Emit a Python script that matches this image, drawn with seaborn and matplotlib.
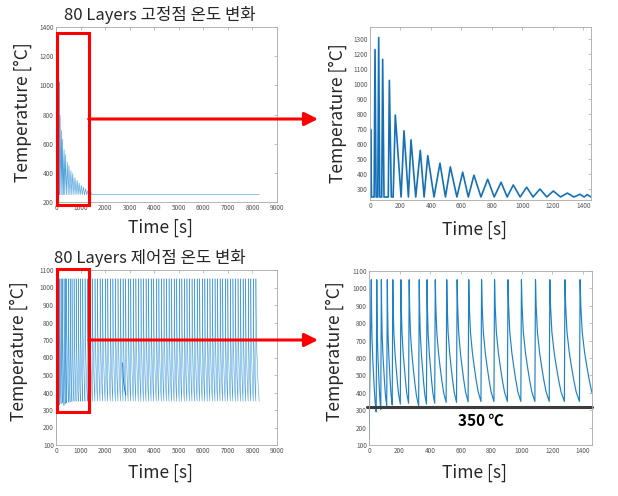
import matplotlib
matplotlib.use("Agg")
import matplotlib.pyplot as plt
import seaborn as sns
import pandas as pd
from matplotlib.patches import Rectangle, FancyArrowPatch

# ---------------- data ----------------
# fixed point (고정점) : peaks / troughs of the temperature trace
fixed_peak_t = [4, 33, 57, 83, 127, 166, 223, 269, 330, 379, 459, 527, 608, 682,
                772, 860, 940, 1028, 1115, 1203, 1295, 1378, 1425]
fixed_peak_T = [700, 1230, 1310, 1165, 1025, 795, 690, 630, 560, 525, 475, 450, 415, 395,
                368, 348, 330, 315, 303, 290, 276, 268, 266]
fixed_trough_t = [0, 10, 27, 40, 51, 64, 77, 92, 120, 140, 152, 204, 252, 300, 355, 420,
                  495, 570, 645, 728, 815, 900, 985, 1070, 1160, 1250, 1338, 1405, 1450, 8275]
fixed_trough_T = [250, 250, 250, 250, 250, 250, 250, 250, 250, 250, 250, 250, 250, 250, 250, 250,
                  250, 250, 250, 250, 250, 250, 250, 250, 250, 250, 250, 250, 250, 250]

# control point (제어점) : layer peak times, peak temperatures, preceding trough temperatures
ctrl_peak_t = [15, 51, 81, 120, 156, 209, 263, 329, 380, 434, 509, 577, 653, 737, 822, 910,
               998, 1090, 1184, 1283, 1382,
               1485, 1589, 1693, 1797, 1901, 2005, 2109, 2213, 2317, 2421, 2525, 2629, 2733,
               2837, 2941, 3045, 3149, 3253, 3357, 3461, 3565, 3669, 3773, 3877, 3981, 4085,
               4189, 4293, 4397, 4501, 4605, 4709, 4813, 4917, 5021, 5125, 5229, 5333, 5437,
               5541, 5645, 5749, 5853, 5957, 6061, 6165, 6269, 6373, 6477, 6581, 6685, 6789,
               6893, 6997, 7101, 7205, 7309, 7413, 7517, 7621, 7725, 7829, 7933, 8037, 8141]
ctrl_peak_T = [1050] * 86
ctrl_trough_T = [130, 290, 305, 325, 330, 335, 340, 325, 335, 340, 345, 345, 348, 350, 350, 350,
                 350, 350, 350, 350, 350] + [350] * 65
ctrl_end = (8275, 350)
# a short irregular excursion visible near 2700 s
ctrl_glitch_t = [2714, 2740, 2790, 2850]
ctrl_glitch_T = [570, 480, 420, 386]
ctrl_setpoint = 316          # drawn reference line (labelled 350 ℃)
ctrl_label = "350 ℃"

# decay shape of one control cycle (fraction of time gap, fraction of temperature drop)
decay_shape_t = [0.0, 0.05, 0.14, 0.30, 0.43, 0.60, 0.77, 1.0]
decay_shape_T = [1.0, 0.78, 0.57, 0.40, 0.30, 0.18, 0.08, 0.0]

titles = ["80 Layers 고정점 온도 변화", "80 Layers 제어점 온도 변화"]
xlabel = "Time [s]"
ylabel = "Temperature [°C]"

# ---------------- build the traces ----------------
fx = [(t, T) for t, T in zip(fixed_peak_t, fixed_peak_T)] + \
     [(t, T) for t, T in zip(fixed_trough_t, fixed_trough_T)]
fx.sort()
fixed_df = pd.DataFrame(fx, columns=["t", "T"])

RISE = 4
ct, cT = [0], [ctrl_trough_T[0]]
n = len(ctrl_peak_t)
for i in range(n):
    if i > 0:
        ct.append(ctrl_peak_t[i] - RISE); cT.append(ctrl_trough_T[i])
    ct.append(ctrl_peak_t[i]); cT.append(ctrl_peak_T[i])
    if i + 1 < n:
        tn, Tn = ctrl_peak_t[i + 1] - RISE, ctrl_trough_T[i + 1]
    else:
        tn, Tn = ctrl_end
    for ft, fT in zip(decay_shape_t[1:-1], decay_shape_T[1:-1]):
        ct.append(ctrl_peak_t[i] + ft * (tn - ctrl_peak_t[i]))
        cT.append(Tn + fT * (ctrl_peak_T[i] - Tn))
ct.append(ctrl_end[0]); cT.append(ctrl_end[1])
ctrl_df = pd.DataFrame({"t": ct, "T": cT})
glitch_df = pd.DataFrame({"t": ctrl_glitch_t, "T": ctrl_glitch_T})

# ---------------- figure ----------------
sns.set_style("white")
plt.rcParams["font.family"] = ["Noto Sans CJK KR", "DejaVu Sans"]

W, H = 618, 496
fig = plt.figure(figsize=(W / 100, H / 100), dpi=100)


def ax_at(l, t, r, b):
    return fig.add_axes([l / W, 1 - b / H, (r - l) / W, (b - t) / H])


def px(x, y):
    return x / W, 1 - y / H


ax1 = ax_at(56, 27, 277, 202)
ax2 = ax_at(370, 27, 591, 200)
ax3 = ax_at(56, 270, 277, 445)
ax4 = ax_at(369, 271, 592, 445)

BLUE = "#0072BD"
LIGHT = "#4a9fdc"
sns.lineplot(data=fixed_df, x="t", y="T", ax=ax1, color=LIGHT, lw=0.45, estimator=None, sort=False)
sns.lineplot(data=fixed_df, x="t", y="T", ax=ax2, color="#1570b8", lw=1.2, estimator=None, sort=False)
sns.lineplot(data=ctrl_df, x="t", y="T", ax=ax3, color=LIGHT, lw=0.4, estimator=None, sort=False)
sns.lineplot(data=glitch_df, x="t", y="T", ax=ax3, color=BLUE, lw=0.6, estimator=None, sort=False)
sns.lineplot(data=ctrl_df, x="t", y="T", ax=ax4, color="#1f82c9", lw=0.85, estimator=None, sort=False)

ax1.set(xlim=(0, 9000), ylim=(200, 1400), xticks=range(0, 9001, 1000), yticks=range(200, 1401, 200))
ax2.set(xlim=(0, 1450), ylim=(230, 1380), xticks=range(0, 1401, 200), yticks=range(300, 1301, 100))
ax3.set(xlim=(0, 9000), ylim=(100, 1100), xticks=range(0, 9001, 1000), yticks=range(100, 1101, 100))
ax4.set(xlim=(0, 1460), ylim=(100, 1100), xticks=range(0, 1401, 200), yticks=range(100, 1101, 100))

ax4.axhline(ctrl_setpoint, color="#3c3c3c", lw=2.2, xmin=-0.01, clip_on=False)
ax4.text(730, 240, ctrl_label, ha="center", va="center", fontsize=11, fontweight="bold",
         color="black")

for ax in (ax1, ax2, ax3, ax4):
    ax.set_xlabel("")
    ax.set_ylabel("")
    for s in ax.spines.values():
        s.set_color("#a8a8a8")
        s.set_linewidth(0.6)
    ax.tick_params(direction="in", top=True, right=True, length=2, width=0.5,
                   color="#a8a8a8", labelsize=4.6, labelcolor="#555555", pad=1.5)

# axis labels and titles
for (x, y) in [(160, 228), (474, 230), (160, 473), (474, 473)]:
    fig.text(*px(x, y), xlabel, ha="center", va="center", fontsize=12.5)
for (x, y) in [(23, 112), (338, 113), (19, 351), (335, 351)]:
    fig.text(*px(x, y), ylabel, ha="center", va="center", fontsize=12.5, rotation=90)
fig.text(*px(160, 15), titles[0], ha="center", va="center", fontsize=12)
fig.text(*px(150, 258), titles[1], ha="center", va="center", fontsize=12)

# red highlight boxes and arrows
for (l, t, r, b, ay) in [(56.7, 33, 88.7, 205.3, 119), (57, 269, 89, 412, 340)]:
    x0, y0 = px(l, b)
    fig.add_artist(Rectangle((x0, y0), (r - l) / W, (b - t) / H, transform=fig.transFigure,
                             fill=False, ec="#ff0000", lw=2.2))
    fig.add_artist(FancyArrowPatch(px(r, ay), px(318, ay), transform=fig.transFigure,
                                   arrowstyle="-|>,head_length=0.8,head_width=0.4",
                                   mutation_scale=10, color="#ff0000", lw=2.2,
                                   shrinkA=0, shrinkB=0))

fig.savefig("out.png", dpi=100)
